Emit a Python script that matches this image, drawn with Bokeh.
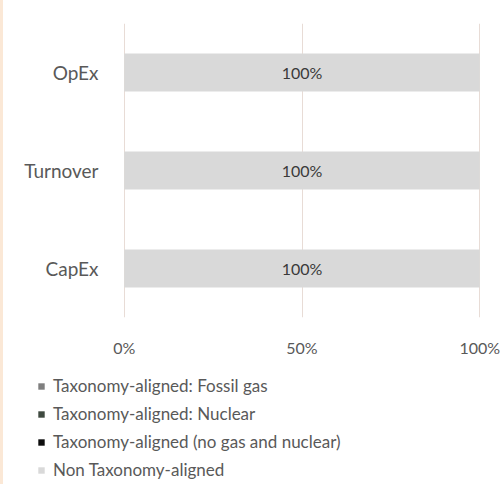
from bokeh.plotting import figure
from bokeh.models import (FactorRange, Range1d, FixedTicker, PrintfTickFormatter, Legend, LegendItem,
                          ColumnDataSource, Spacer)
from bokeh.layouts import row, column
from bokeh.core.properties import value
from bokeh.embed import file_html
from bokeh.resources import INLINE

categories = ["CapEx", "Turnover", "OpEx"]
series_names = ["Taxonomy-aligned: Fossil gas", "Taxonomy-aligned: Nuclear",
                "Taxonomy-aligned (no gas and nuclear)", "Non Taxonomy-aligned"]
series_keys = ["fossil", "nuclear", "aligned", "non"]
fossil = [0, 0, 0]
nuclear = [0, 0, 0]
aligned = [0, 0, 0]
non_aligned = [100, 100, 100]
colors = ["#7f7f7f", "#3f4a40", "#0d0d0d", "#d9d9d9"]
x_ticks = [0, 50, 100]

FONT = "Lato"

data = dict(cat=categories, fossil=fossil, nuclear=nuclear, aligned=aligned, non=non_aligned)
label_x = [f + n + a + na / 2 for f, n, a, na in zip(fossil, nuclear, aligned, non_aligned)]
data["lx"] = label_x
data["lbl"] = [f"{v}%" for v in non_aligned]
src = ColumnDataSource(data)

p = figure(width=499, height=375, y_range=FactorRange(factors=categories), x_range=Range1d(-0.2, 100.2),
           output_backend="svg", toolbar_location=None,
           min_border_left=120, min_border_right=22, min_border_top=23, min_border_bottom=58)
p.outline_line_color = None
p.background_fill_color = "white"
p.border_fill_color = "white"

renderers = p.hbar_stack(series_keys, y="cat", height=0.39, color=colors, source=src, line_color=None)

p.text(x="lx", y="cat", text="lbl", source=src, text_align="center", text_baseline="middle",
       text_font=value(FONT), text_font_size="16px", text_color="#3a3a3a")

p.ygrid.grid_line_color = None
p.xgrid.grid_line_color = "#e8dcd6"
p.xgrid.ticker = FixedTicker(ticks=x_ticks)

p.xaxis.ticker = FixedTicker(ticks=x_ticks)
p.xaxis.formatter = PrintfTickFormatter(format="%d%%")
p.xaxis.axis_line_color = None
p.xaxis.major_tick_line_color = None
p.xaxis.minor_tick_line_color = None
p.xaxis.major_label_standoff = 14
p.xaxis.major_label_text_font = FONT
p.xaxis.major_label_text_font_size = "16px"
p.xaxis.major_label_text_color = "#595959"

p.yaxis.axis_line_color = None
p.yaxis.major_tick_line_color = None
p.yaxis.minor_tick_line_color = None
p.yaxis.major_label_standoff = 19
p.yaxis.major_label_text_font = FONT
p.yaxis.major_label_text_font_size = "19px"
p.yaxis.major_label_text_color = "#595959"

# legend figure: same series; its x range lies beside the bars, so only the legend shows
lf = figure(width=499, height=109, y_range=FactorRange(factors=categories), x_range=Range1d(-200, -100),
            output_backend="svg", toolbar_location=None,
            min_border_left=0, min_border_right=0, min_border_top=0, min_border_bottom=0)
lf.axis.visible = False
lf.grid.visible = False
lf.outline_line_color = None
leg_renderers = lf.hbar_stack(series_keys, y="cat", height=0.39, color=colors, source=src, line_color=None)

items = [LegendItem(label=n, renderers=[r]) for n, r in zip(series_names, leg_renderers)]
legend = Legend(items=items, location=(34, 4), orientation="vertical",
                padding=0, margin=0, spacing=7, glyph_width=8, glyph_height=8,
                label_height=20, label_standoff=8, border_line_color=None,
                background_fill_alpha=0, label_text_font=FONT, label_text_font_size="17px",
                label_text_color="#595959")
lf.add_layout(legend, "center")

strip = Spacer(width=3, height=484, styles={"background-color": "#fbe8d6"})
layout = row(strip, column(p, row(lf, spacing=0), spacing=0), spacing=0)

open("out.html", "w").write(file_html(layout, INLINE))
